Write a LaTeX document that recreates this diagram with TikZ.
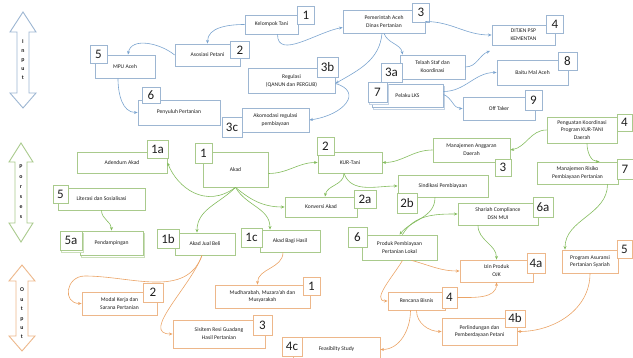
\documentclass[tikz,border=0pt]{standalone}
\usepackage{fontspec}
\setmainfont{Carlito}
\usetikzlibrary{arrows.meta,shadows}

\definecolor{inblue}{HTML}{9DB6D2}
\definecolor{inarrow}{HTML}{7BA4CF}
\definecolor{prgreen}{HTML}{A9CA8C}
\definecolor{prarrow}{HTML}{84BC5E}
\definecolor{outorange}{HTML}{EDB78A}
\definecolor{outarrow}{HTML}{EBA467}
\definecolor{txt}{HTML}{1E1E1E}

\tikzset{
  box/.style={draw, line width=0.8pt, fill=white, inner sep=0pt, align=center,
    text=txt, font=\fontsize{5.6}{7.9}\selectfont},
  numbox/.style={draw, line width=0.8pt, fill=white, inner sep=0pt,
    text=txt, font=\fontsize{13}{13}\selectfont},
  inbox/.style={box, draw=inblue},
  innum/.style={numbox, draw=inblue},
  prbox/.style={box, draw=prgreen},
  prnum/.style={numbox, draw=prgreen},
  outbox/.style={box, draw=outorange},
  outnum/.style={numbox, draw=outorange},
  twin/.style={copy shadow={shadow xshift=1.5pt, shadow yshift=-2pt, fill=white, draw=#1}},
  conn/.style={line width=0.6pt, -{Stealth[length=3.6pt,width=3pt]}},
  inarr/.style={conn, draw=inarrow},
  prarr/.style={conn, draw=prarrow},
  outarr/.style={conn, draw=outarrow},
  stagelabel/.style={align=center, text=txt, font=\bfseries\fontsize{5.8}{#1}\selectfont},
  bigarrow/.style={line width=0.9pt, fill=white},
}

\begin{document}
\begin{tikzpicture}[x=1pt, y=-1pt]
\useasboundingbox (0,0) rectangle (633,358);
\clip (0,0) rectangle (633,358);

% ---------- stage arrows ----------
\draw[bigarrow, draw=inblue] (23,12) -- (36,32) -- (29,32) -- (29,93) -- (36,93) -- (23,108)
  -- (10,93) -- (17,93) -- (17,32) -- (10,32) -- cycle;
\node[stagelabel=9] (lblin) at (23,60) {I\\n\\p\\u\\t};

\draw[bigarrow, draw=prgreen] (21,143) -- (33,162) -- (27,162) -- (27,223) -- (33,223) -- (21,242)
  -- (9,223) -- (15,223) -- (15,162) -- (9,162) -- cycle;
\node[stagelabel=10] (lblpr) at (21,192) {P\\o\\r\\s\\e\\s};

\draw[bigarrow, draw=outorange] (22,265) -- (35,281) -- (28,281) -- (28,336) -- (35,336) -- (22,351)
  -- (9,336) -- (16,336) -- (16,281) -- (9,281) -- cycle;
\node[stagelabel=9.4] (lblout) at (22,313.5) {O\\u\\t\\p\\u\\t};

% ---------- input ----------
\node[inbox, minimum width=53pt, minimum height=19pt] (kt) at (271.5,24.5) {Kelompok Tani};
\node[innum, minimum width=17pt, minimum height=18pt] (ktn) at (306,15) {1};
\node[inbox, minimum width=65pt, minimum height=22pt] (as) at (207.5,55) {Asosiasi Petani};
\node[innum, minimum width=19pt, minimum height=17pt] (asn) at (240,50) {2};
\node[inbox, minimum width=82pt, minimum height=23pt] (pa) at (384,21.5) {Pemerintah Aceh\\Dinas Pertanian};
\node[innum, minimum width=17pt, minimum height=19pt] (pan) at (421,12.5) {3};
\node[inbox, minimum width=63pt, minimum height=20pt] (dj) at (523.5,35) {DITJEN PSP\\KEMENTAN};
\node[innum, minimum width=17pt, minimum height=18pt] (djn) at (555,24) {4};
\node[inbox, minimum width=60pt, minimum height=23pt] (mpu) at (125,66.5) {MPU Aceh};
\node[innum, minimum width=17pt, minimum height=18pt] (mpun) at (98.5,54) {5};
\node[inbox, minimum width=82pt, minimum height=25pt] (pp) at (179,112.5) {Penyuluh Pertanian};
\node[innum, minimum width=18pt, minimum height=16pt] (ppn) at (151,95) {6};
\node[inbox, minimum width=87pt, minimum height=25pt] (rg) at (291.5,80.5) {Regulasi\\(QANUN dan PERGUB)};
\node[innum, minimum width=21pt, minimum height=20pt] (rgn) at (327.5,67) {3b};
\node[inbox, minimum width=67pt, minimum height=24pt] (ak) at (275.5,120) {Akomodasi regulasi\\pembiayaan};
\node[innum, minimum width=20pt, minimum height=20pt] (akn) at (232,127) {3c};
\node[inbox, minimum width=65pt, minimum height=24pt] (ts) at (432.5,67) {Telaah Staf dan\\Koordinasi};
\node[innum, minimum width=21pt, minimum height=19pt] (tsn) at (391.5,72.5) {3a};
\node[inbox, twin=inblue!60, minimum width=71pt, minimum height=23pt] (lk) at (407.5,95.5) {Pelaku LKS};
\node[innum, twin=inblue!60, minimum width=19pt, minimum height=20pt] (lkn) at (377.5,92) {7};
\node[inbox, minimum width=71pt, minimum height=25pt] (bm) at (532.5,72.5) {Baitu Mal Aceh};
\node[innum, minimum width=19pt, minimum height=18pt] (bmn) at (567.5,61) {8};
\node[inbox, minimum width=72pt, minimum height=23pt] (ot) at (499,108.5) {Off Taker};
\node[innum, minimum width=17pt, minimum height=20pt] (otn) at (533.5,100) {9};

% ---------- process ----------
\node[prbox, minimum width=70pt, minimum height=26pt] (pk) at (582,130) {Penguatan Koordinasi\\Program KUR-TANI\\Daerah};
\node[prnum, minimum width=15pt, minimum height=17pt] (pkn) at (624.5,122.5) {4};
\node[prbox, minimum width=77pt, minimum height=24pt] (ma) at (471.5,150) {Manajemen Anggaran\\Daerah};
\node[prnum, minimum width=16pt, minimum height=17pt] (man) at (503,167.5) {3};
\node[prbox, minimum width=81pt, minimum height=22pt] (mr) at (577.5,173) {Manajemen Risiko\\Pembiayaan Pertanian};
\node[prnum, minimum width=16pt, minimum height=20pt] (mrn) at (625,169) {7};
\node[prbox, minimum width=64pt, minimum height=21pt] (kur) at (350,162.5) {KUR-Tani};
\node[prnum, minimum width=17pt, minimum height=18pt] (kurn) at (325.5,146) {2};
\node[prbox, minimum width=90pt, minimum height=22pt] (sp) at (443,186) {Sindikasi Pembiayaan};
\node[prnum, minimum width=20pt, minimum height=20pt] (spn) at (407,203) {2b};
\node[prbox, minimum width=72pt, minimum height=20pt] (ka) at (321,207) {Konversi Akad};
\node[prnum, minimum width=22pt, minimum height=18pt] (kan) at (365,199) {2a};
\node[prbox, minimum width=65pt, minimum height=35pt] (akad) at (235.5,169.5) {Akad};
\node[prnum, minimum width=17pt, minimum height=20pt] (akadn) at (203.5,153) {1};
\node[prbox, minimum width=90pt, minimum height=21pt] (ad) at (122,162.5) {Adendum Akad};
\node[prnum, minimum width=21pt, minimum height=18pt] (adn) at (157.5,149) {1a};
\node[prbox, minimum width=87pt, minimum height=22pt] (ls) at (101.5,199) {Literasi dan Sosialisasi};
\node[prnum, minimum width=15pt, minimum height=18pt] (lsn) at (60.5,194) {5};
\node[prbox, twin=prgreen!60, minimum width=63pt, minimum height=24pt] (pd) at (111.5,243) {Pendampingan};
\node[prnum, twin=prgreen!60, minimum width=22pt, minimum height=19pt] (pdn) at (71,240.5) {5a};
\node[prbox, minimum width=60pt, minimum height=22pt] (jb) at (205,244) {Akad Jual Beli};
\node[prnum, minimum width=22pt, minimum height=19pt] (jbn) at (168,239) {1b};
\node[prbox, minimum width=60pt, minimum height=22pt] (bh) at (290,241) {Akad Bagi Hasil};
\node[prnum, minimum width=21pt, minimum height=19pt] (bhn) at (251.5,237.5) {1c};
\node[prbox, minimum width=75pt, minimum height=25pt] (prod) at (399.5,247.5) {Produk Pembiayaan\\Pertanian Lokal};
\node[prnum, minimum width=19pt, minimum height=20pt] (prodn) at (357.5,237) {6};
\node[prbox, minimum width=80pt, minimum height=22pt] (sc) at (498,214) {Shariah Compliance\\DSN MUI};
\node[prnum, minimum width=20pt, minimum height=20pt] (scn) at (543,207) {6a};

% ---------- output ----------
\node[outbox, minimum width=75pt, minimum height=23pt] (mk) at (119.5,303.5) {Modal Kerja dan\\Sarana Pertanian};
\node[outnum, minimum width=20pt, minimum height=19pt] (mkn) at (153,292.5) {2};
\node[outbox, minimum width=92pt, minimum height=28pt] (sr) at (219,334) {Sisitem Resi Guadang\\Hasil Pertanian};
\node[outnum, minimum width=19pt, minimum height=20pt] (srn) at (262.5,325) {3};
\node[outbox, minimum width=95pt, minimum height=23pt] (mu) at (262.5,296.5) {Mudharabah, Muzara'ah dan\\Musyarakah};
\node[outnum, minimum width=17pt, minimum height=18pt] (mun) at (311.5,286) {1};
\node[outbox, minimum width=87pt, minimum height=25pt] (fs) at (336.5,349.5) {Feasibilty Study};
\node[outnum, minimum width=20pt, minimum height=19pt] (fsn) at (292,346.5) {4c};
\node[outbox, minimum width=57pt, minimum height=18pt] (rb) at (416.5,301) {Rencana Bisnis};
\node[outnum, minimum width=15pt, minimum height=21pt] (rbn) at (449.5,297.5) {4};
\node[outbox, minimum width=73pt, minimum height=22pt] (iz) at (496.5,271) {Izin Produk\\OJK};
\node[outnum, minimum width=18pt, minimum height=20pt] (izn) at (536,263) {4a};
\node[outbox, minimum width=75pt, minimum height=27pt] (pl) at (479.5,331.5) {Perlindungan dan\\Pemberdayaan Petani};
\node[outnum, minimum width=20pt, minimum height=17pt] (pln) at (515,318.5) {4b};
\node[outbox, minimum width=56pt, minimum height=23pt] (pas) at (590,261.5) {Program Asuransi\\Pertanian Syariah};
\node[outnum, minimum width=15pt, minimum height=18pt] (pasn) at (624.5,249) {5};

% ---------- input connectors ----------
\draw[inarr] (kt.west) to[out=180,in=90] (as.north);
\draw[inarr] ([xshift=6pt]kt.south) to[out=-90,in=190] ([yshift=-6pt]pa.west);
\draw[inarr] (as.west) to[out=140,in=80] ([xshift=3pt]mpu.north);
\draw[inarr] ([xshift=-7pt]mpu.south) to[out=-90,in=180] (pp.west);
\draw[inarr] (pa.south) to[out=-70,in=100] ([xshift=3pt]ts.north west);
\draw[inarr] ([xshift=-2pt]pa.south) to[out=-95,in=30] ([yshift=-3pt]rg.east);
\draw[inarr] ([yshift=-3pt]rg.east) .. controls +(28,8) and +(35,-5) .. (ak.east);
\draw[inarr] (pa.east) to[out=0,in=180] (dj.west);
\coordinate (tsend) at (490,51);
\draw[inarr] (ts.east) to[out=0,in=200] (tsend);
\draw[inarr] ([yshift=4pt]lk.east) to[out=0,in=180] (bm.west);
\draw[inarr] ([yshift=1pt]lk.east) to[out=-20,in=180] (ot.west);

% ---------- process connectors ----------
\draw[prarr] (pk.west) to[out=180,in=10] (ma.east);
\draw[prarr] ([xshift=5pt]pk.south) to[out=-90,in=180] ([xshift=22pt]mr.north);
\draw[prarr] (ma.west) to[out=180,in=0] (kur.east);
\draw[prarr] ([yshift=-4pt]akad.east) to[out=0,in=180] (kur.west);
\draw[prarr] ([xshift=-6pt]kur.south) to[out=-90,in=80] ([xshift=4pt]ka.north);
\draw[prarr] ([xshift=-6pt]kur.south) to[out=-70,in=180] (sp.west);
\draw[prarr] ([xshift=-8pt]sp.south) to[out=-90,in=50] (prod.north);
\draw[prarr] ([xshift=3pt]prod.north) to[out=60,in=180] (sc.west);
\draw[prarr] ([xshift=-20pt]sc.south) to[out=-90,in=90] (iz.north);
\draw[prarr] ([xshift=30pt]mr.south) to[out=-90,in=90] ([xshift=-25pt]pas.north);
\draw[prarr] (akad.south) .. controls +(-30,22) and +(10,25) .. (ad.east);
\draw[prarr] (akad.south) to[out=-135,in=90] ([xshift=-8pt]jb.north);
\draw[prarr] (akad.south) to[out=-60,in=90] ([xshift=-20pt]bh.north);
\draw[prarr] (akad.south) to[out=-40,in=180] (ka.west);
\draw[prarr] (ls.south) to[out=-90,in=90] (pd.north);

% ---------- output connectors ----------
\coordinate (jbbend) at (85,276);
\draw[outarr] ([xshift=-3pt]jb.south) to[out=-110,in=0] (jbbend) to[out=180,in=180,looseness=1.8] (mk.west);
\draw[outarr] ([xshift=-3pt]jb.south) to[out=-110,in=180] (sr.west);
\draw[outarr] ([xshift=-7pt]bh.south) to[out=-90,in=90] ([xshift=-5pt]mu.north);
\draw[outarr] ([xshift=3pt]prod.south) to[out=-120,in=180] (rb.west);
\draw[outarr] ([xshift=12pt]prod.south) to[out=-15,in=180] (iz.west);
\draw[outarr] (rbn.east) to[out=0,in=-90] (iz.south);
\draw[outarr] (rb.south) to[out=-90,in=180] (pl.west);
\draw[outarr] ([xshift=-6pt]rb.south) to[out=-90,in=0] (fs.east);
\draw[outarr] (pas.south) to[out=-90,in=0] (pl.east);
\end{tikzpicture}
\end{document}
